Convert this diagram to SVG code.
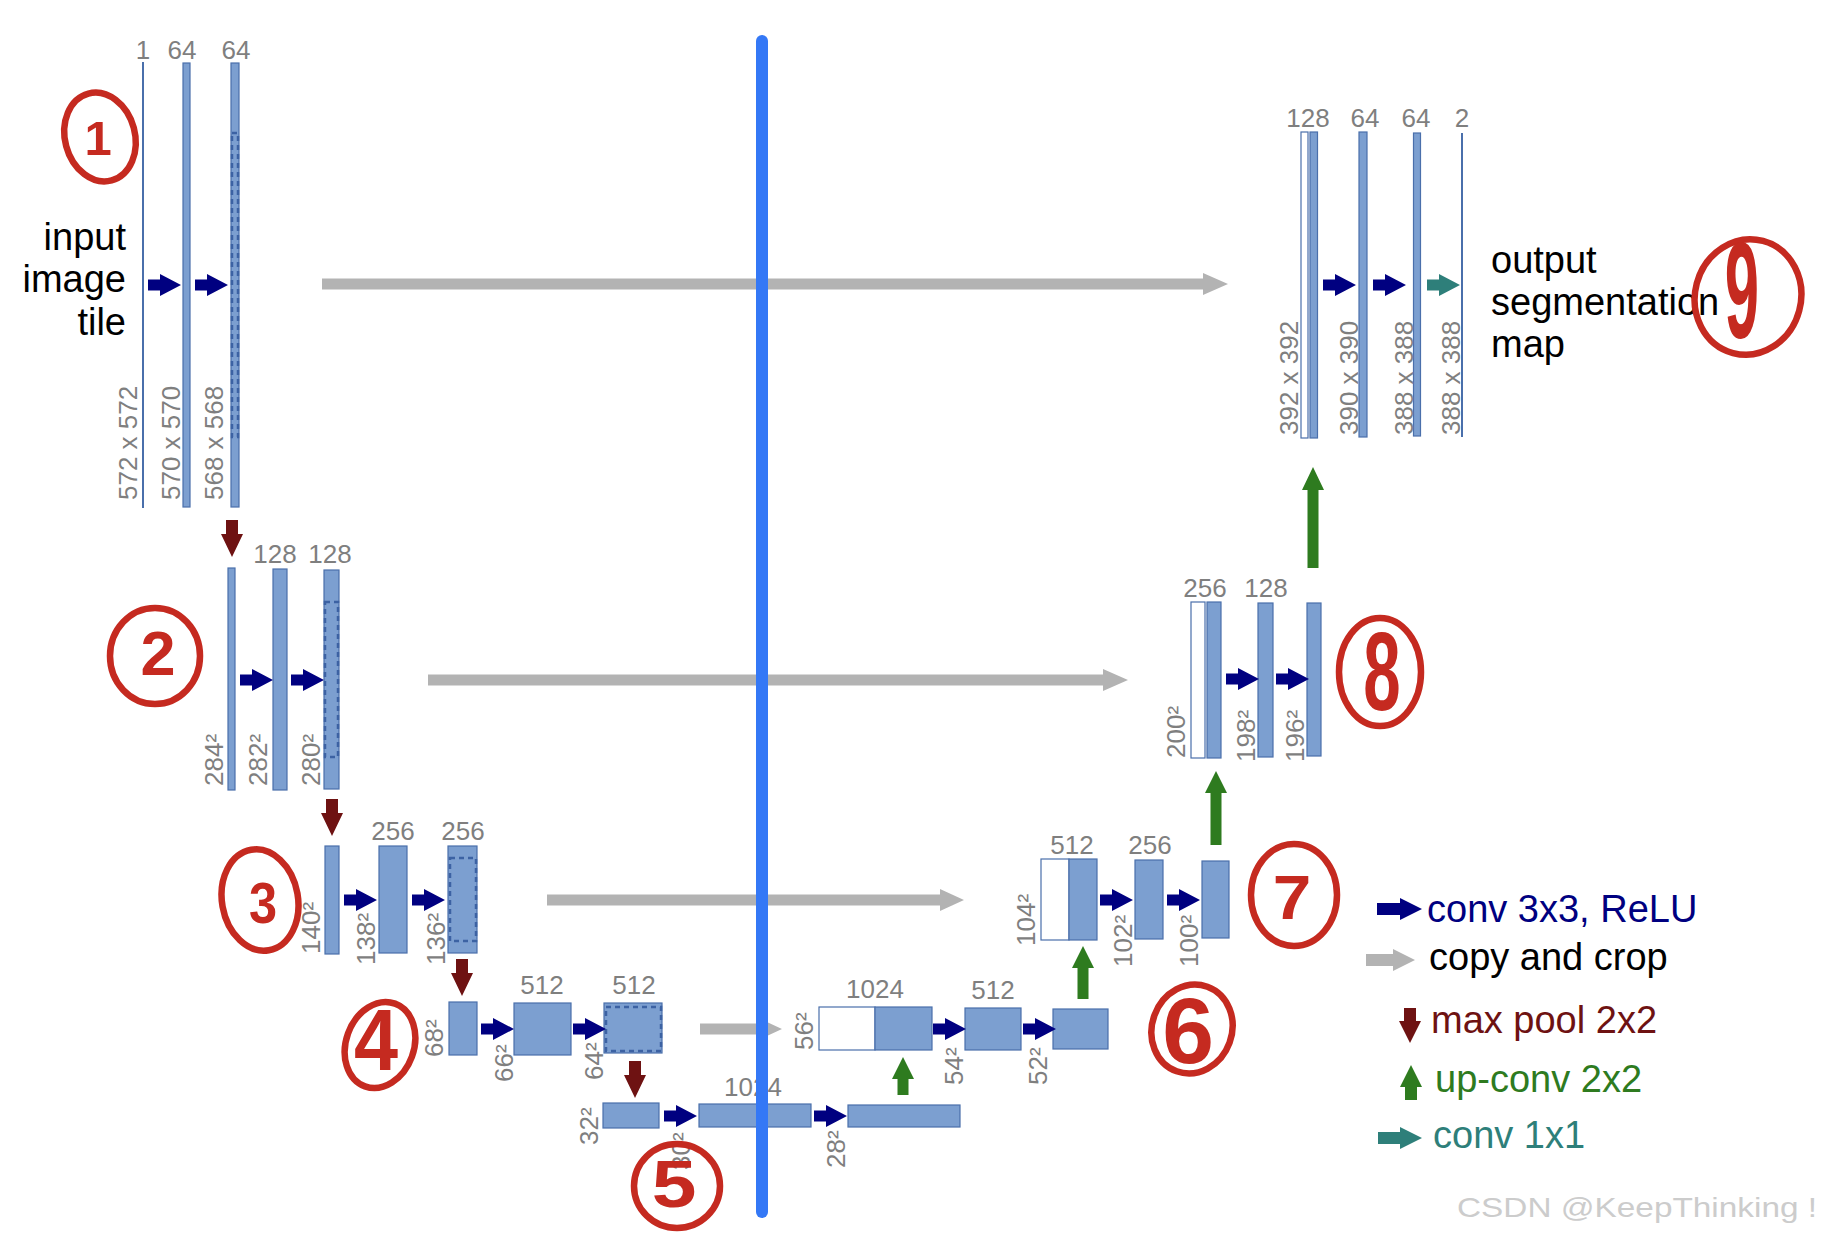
<svg xmlns="http://www.w3.org/2000/svg" xmlns:xlink="http://www.w3.org/1999/xlink" width="1834" height="1240" viewBox="0 0 1834 1240">
<style>
.bar{fill:#7c9fd0;stroke:#4a6fab;stroke-width:1.2}
.wbar{fill:#fff;stroke:#4a6fab;stroke-width:1.2}
.thin{stroke:#4a6fab;stroke-width:2}
.dash{fill:none;stroke:#3c62a3;stroke-width:2.5;stroke-dasharray:5 4}
.lbl{font-family:"Liberation Sans",Arial,sans-serif;font-size:26px;fill:#7f7f7f}
.top{text-anchor:middle}
.big{font-family:"Liberation Sans",Arial,sans-serif;font-size:38px;fill:#000}
.conv{fill:#000080}
.pool{fill:#6e1212}
.up{fill:#2e7b1f}
.copy{fill:#b3b3b3}
.c1{fill:#2e7f7a}
.red{fill:none;stroke:#c52a20;stroke-width:6.5}
.rnum{font-family:"Liberation Sans",Arial,sans-serif;font-weight:bold;fill:#c52a20;text-anchor:middle}
</style>
<defs>
<path id="ac" d="M0,-5.5H12V-11L33,0L12,11V5.5H0Z"/>
<path id="ap" d="M-6,0H6V14H11L0,37L-11,14H-6Z"/>
</defs>
<rect width="1834" height="1240" fill="#fff"/>

<g id="enc1">
<line class="thin" x1="143" y1="62" x2="143" y2="508"/>
<rect class="bar" x="183" y="63" width="7" height="444"/>
<rect class="bar" x="231" y="63" width="8" height="444"/>
<rect class="dash" x="232" y="133" width="6" height="304"/>
<text class="lbl top" x="143" y="59">1</text>
<text class="lbl top" x="182" y="59">64</text>
<text class="lbl top" x="236" y="59">64</text>
<text class="lbl" transform="translate(137,500) rotate(-90)">572 x 572</text>
<text class="lbl" transform="translate(180,500) rotate(-90)">570 x 570</text>
<text class="lbl" transform="translate(223,500) rotate(-90)">568 x 568</text>
<text class="big" text-anchor="end" x="126" y="250">input</text>
<text class="big" text-anchor="end" x="126" y="292">image</text>
<text class="big" text-anchor="end" x="126" y="335">tile</text>
</g>

<g id="enc2">
<rect class="bar" x="228" y="568" width="7" height="222"/>
<rect class="bar" x="273" y="569" width="14" height="221"/>
<rect class="bar" x="324" y="570" width="15" height="219"/>
<rect class="dash" x="325" y="602" width="13" height="155"/>
<text class="lbl top" x="275" y="563">128</text>
<text class="lbl top" x="330" y="563">128</text>
<text class="lbl" transform="translate(223,786) rotate(-90)">284²</text>
<text class="lbl" transform="translate(267,786) rotate(-90)">282²</text>
<text class="lbl" transform="translate(320,786) rotate(-90)">280²</text>
</g>

<g id="enc3">
<rect class="bar" x="325" y="846" width="14" height="108"/>
<rect class="bar" x="379" y="846" width="28" height="107"/>
<rect class="bar" x="448" y="846" width="29" height="107"/>
<rect class="dash" x="450" y="858" width="26" height="83"/>
<text class="lbl top" x="393" y="840">256</text>
<text class="lbl top" x="463" y="840">256</text>
<text class="lbl" transform="translate(320,954) rotate(-90)">140²</text>
<text class="lbl" transform="translate(375,965) rotate(-90)">138²</text>
<text class="lbl" transform="translate(445,965) rotate(-90)">136²</text>
</g>

<g id="enc4">
<rect class="bar" x="449" y="1002" width="28" height="53"/>
<rect class="bar" x="514" y="1003" width="57" height="52"/>
<rect class="bar" x="604" y="1003" width="58" height="50"/>
<rect class="dash" x="606" y="1007" width="55" height="44"/>
<text class="lbl top" x="542" y="994">512</text>
<text class="lbl top" x="634" y="994">512</text>
<text class="lbl" transform="translate(443,1057) rotate(-90)">68²</text>
<text class="lbl" transform="translate(513,1082) rotate(-90)">66²</text>
<text class="lbl" transform="translate(603,1080) rotate(-90)">64²</text>
</g>

<g id="bottleneck">
<rect class="bar" x="603" y="1103" width="56" height="25"/>
<rect class="bar" x="699" y="1104" width="112" height="23"/>
<rect class="bar" x="848" y="1105" width="112" height="22"/>
<text class="lbl top" x="753" y="1096">1024</text>
<text class="lbl" transform="translate(598,1145) rotate(-90)">32²</text>
<text class="lbl" transform="translate(690,1170) rotate(-90)">30²</text>
<text class="lbl" transform="translate(845,1168) rotate(-90)">28²</text>
</g>

<g id="dec4">
<rect class="wbar" x="819" y="1007" width="56" height="43"/>
<rect class="bar" x="875" y="1007" width="57" height="43"/>
<rect class="bar" x="965" y="1008" width="56" height="42"/>
<rect class="bar" x="1053" y="1009" width="55" height="40"/>
<text class="lbl top" x="875" y="998">1024</text>
<text class="lbl top" x="993" y="999">512</text>
<text class="lbl" transform="translate(813,1050) rotate(-90)">56²</text>
<text class="lbl" transform="translate(963,1085) rotate(-90)">54²</text>
<text class="lbl" transform="translate(1047,1085) rotate(-90)">52²</text>
</g>

<g id="dec3">
<rect class="wbar" x="1041" y="859" width="28" height="81"/>
<rect class="bar" x="1069" y="859" width="28" height="81"/>
<rect class="bar" x="1135" y="860" width="28" height="79"/>
<rect class="bar" x="1202" y="861" width="27" height="77"/>
<text class="lbl top" x="1072" y="854">512</text>
<text class="lbl top" x="1150" y="854">256</text>
<text class="lbl" transform="translate(1035,946) rotate(-90)">104²</text>
<text class="lbl" transform="translate(1132,967) rotate(-90)">102²</text>
<text class="lbl" transform="translate(1198,967) rotate(-90)">100²</text>
</g>

<g id="dec2">
<rect class="wbar" x="1191" y="602" width="14" height="156"/>
<rect class="bar" x="1207" y="602" width="14" height="156"/>
<rect class="bar" x="1258" y="603" width="15" height="154"/>
<rect class="bar" x="1307" y="603" width="14" height="153"/>
<text class="lbl top" x="1205" y="597">256</text>
<text class="lbl top" x="1266" y="597">128</text>
<text class="lbl" transform="translate(1185,758) rotate(-90)">200²</text>
<text class="lbl" transform="translate(1255,762) rotate(-90)">198²</text>
<text class="lbl" transform="translate(1304,762) rotate(-90)">196²</text>
</g>

<g id="dec1">
<rect class="wbar" x="1301" y="132" width="7" height="306"/>
<rect class="bar" x="1310" y="132" width="7.5" height="306"/>
<rect class="bar" x="1359" y="132" width="8" height="305"/>
<rect class="bar" x="1413.5" y="133" width="7" height="303"/>
<line class="thin" x1="1462" y1="133" x2="1462" y2="437"/>
<text class="lbl top" x="1308" y="127">128</text>
<text class="lbl top" x="1365" y="127">64</text>
<text class="lbl top" x="1416" y="127">64</text>
<text class="lbl top" x="1462" y="127">2</text>
<text class="lbl" transform="translate(1298,435) rotate(-90)">392 x 392</text>
<text class="lbl" transform="translate(1358,435) rotate(-90)">390 x 390</text>
<text class="lbl" transform="translate(1413,435) rotate(-90)">388 x 388</text>
<text class="lbl" transform="translate(1460,435) rotate(-90)">388 x 388</text>
<text class="big" x="1491" y="273">output</text>
<text class="big" x="1491" y="315">segmentation</text>
<text class="big" x="1491" y="357">map</text>
</g>

<g id="connectors">
<use href="#ac" class="conv" x="148" y="285"/>
<use href="#ac" class="conv" x="195" y="285"/>
<use href="#ac" class="conv" x="240" y="680"/>
<use href="#ac" class="conv" x="291" y="680"/>
<use href="#ac" class="conv" x="344" y="900"/>
<use href="#ac" class="conv" x="412" y="900"/>
<use href="#ac" class="conv" x="481" y="1029"/>
<use href="#ac" class="conv" x="573" y="1029"/>
<use href="#ac" class="conv" x="664" y="1116"/>
<use href="#ac" class="conv" x="814" y="1116"/>
<use href="#ac" class="conv" x="933" y="1029"/>
<use href="#ac" class="conv" x="1023" y="1029"/>
<use href="#ac" class="conv" x="1100" y="900"/>
<use href="#ac" class="conv" x="1167" y="900"/>
<use href="#ac" class="conv" x="1226" y="679"/>
<use href="#ac" class="conv" x="1276" y="679"/>
<use href="#ac" class="conv" x="1323" y="285"/>
<use href="#ac" class="conv" x="1373" y="285"/>
<use href="#ac" class="c1" x="1427" y="285"/>
<use href="#ap" class="pool" x="232" y="520"/>
<use href="#ap" class="pool" x="332" y="799"/>
<use href="#ap" class="pool" x="462" y="959"/>
<use href="#ap" class="pool" x="635" y="1061"/>
<polygon class="up" points="897.5,1095 908.5,1095 908.5,1079 914,1079 903,1057 892,1079 897.5,1079"/>
<polygon class="up" points="1077.5,999 1088.5,999 1088.5,968 1094,968 1083,946 1072,968 1077.5,968"/>
<polygon class="up" points="1210.5,845 1221.5,845 1221.5,793 1227,793 1216,771 1205,793 1210.5,793"/>
<polygon class="up" points="1307.5,568 1318.5,568 1318.5,490 1324,490 1313,467 1302,490 1307.5,490"/>
<polygon class="copy" points="322,278.5 1203,278.5 1203,273 1228,284 1203,295 1203,289.5 322,289.5"/>
<polygon class="copy" points="428,674.5 1103,674.5 1103,669 1128,680 1103,691 1103,685.5 428,685.5"/>
<polygon class="copy" points="547,894.5 940,894.5 940,889 964,900 940,911 940,905.5 547,905.5"/>
<polygon class="copy" points="700,1023.5 758,1023.5 758,1018 782,1029 758,1040 758,1034.5 700,1034.5"/>
</g>

<line id="divider" x1="762" y1="41" x2="762" y2="1212" stroke="#3478f6" stroke-width="12" stroke-linecap="round"/>

<g id="legend">
<polygon class="conv" points="1377,903 1400,903 1400,898 1422,909 1400,920 1400,915 1377,915"/>
<text class="big" x="1427" y="922" style="fill:#000080">conv 3x3, ReLU</text>
<polygon class="copy" points="1366,954 1393,954 1393,949 1415,960 1393,971 1393,966 1366,966"/>
<text class="big" x="1429" y="970">copy and crop</text>
<polygon class="pool" points="1404,1008 1416,1008 1416,1021 1421,1021 1410,1043 1399,1021 1404,1021"/>
<text class="big" x="1431" y="1033" style="fill:#6e1212">max pool 2x2</text>
<polygon class="up" points="1405,1100 1417,1100 1417,1087 1422,1087 1411,1065 1400,1087 1405,1087"/>
<text class="big" x="1435" y="1092" style="fill:#2e7b1f">up-conv 2x2</text>
<polygon class="c1" points="1378,1132 1400,1132 1400,1127 1422,1138 1400,1149 1400,1144 1378,1144"/>
<text class="big" x="1433" y="1148" style="fill:#2e7f7a">conv 1x1</text>
</g>

<g id="annotations">
<ellipse class="red" cx="100" cy="137" rx="35" ry="45" transform="rotate(-15 100 137)"/>
<text class="rnum" font-size="49" transform="translate(98,154.5)">1</text>
<ellipse class="red" cx="155" cy="656" rx="45" ry="48"/>
<text class="rnum" font-size="63" transform="translate(158,674.5)">2</text>
<ellipse class="red" cx="260" cy="900" rx="38" ry="51" transform="rotate(-10 260 900)"/>
<text class="rnum" font-size="58" transform="translate(263,922.8) scale(0.87,1)">3</text>
<ellipse class="red" cx="380" cy="1045" rx="34" ry="44" transform="rotate(20 380 1045)"/>
<text class="rnum" font-size="88" transform="translate(376,1069.5) scale(0.9,1)">4</text>
<ellipse class="red" cx="677" cy="1186" rx="43" ry="42"/>
<text class="rnum" font-size="67" transform="translate(674,1207) scale(1.2,1)">5</text>
<ellipse class="red" cx="1192" cy="1029" rx="40" ry="45" transform="rotate(20 1192 1029)"/>
<text class="rnum" font-size="93" transform="translate(1188,1063.3)">6</text>
<ellipse class="red" cx="1294" cy="895" rx="43" ry="51"/>
<text class="rnum" font-size="63" transform="translate(1292,918.5) scale(1.1,1)">7</text>
<ellipse class="red" cx="1380" cy="672" rx="41" ry="54"/>
<text class="rnum" font-size="112" transform="translate(1382,710) scale(0.6,1)">8</text>
<ellipse class="red" cx="1748" cy="297" rx="53" ry="58" transform="rotate(15 1748 297)"/>
<text class="rnum" font-size="137" transform="translate(1742,338) scale(0.45,1)">9</text>
</g>

<text id="watermark" x="1457" y="1217" font-family="'Liberation Sans',Arial,sans-serif" font-size="28" fill="#cccccc" textLength="360" lengthAdjust="spacingAndGlyphs">CSDN @KeepThinking !</text>
</svg>
